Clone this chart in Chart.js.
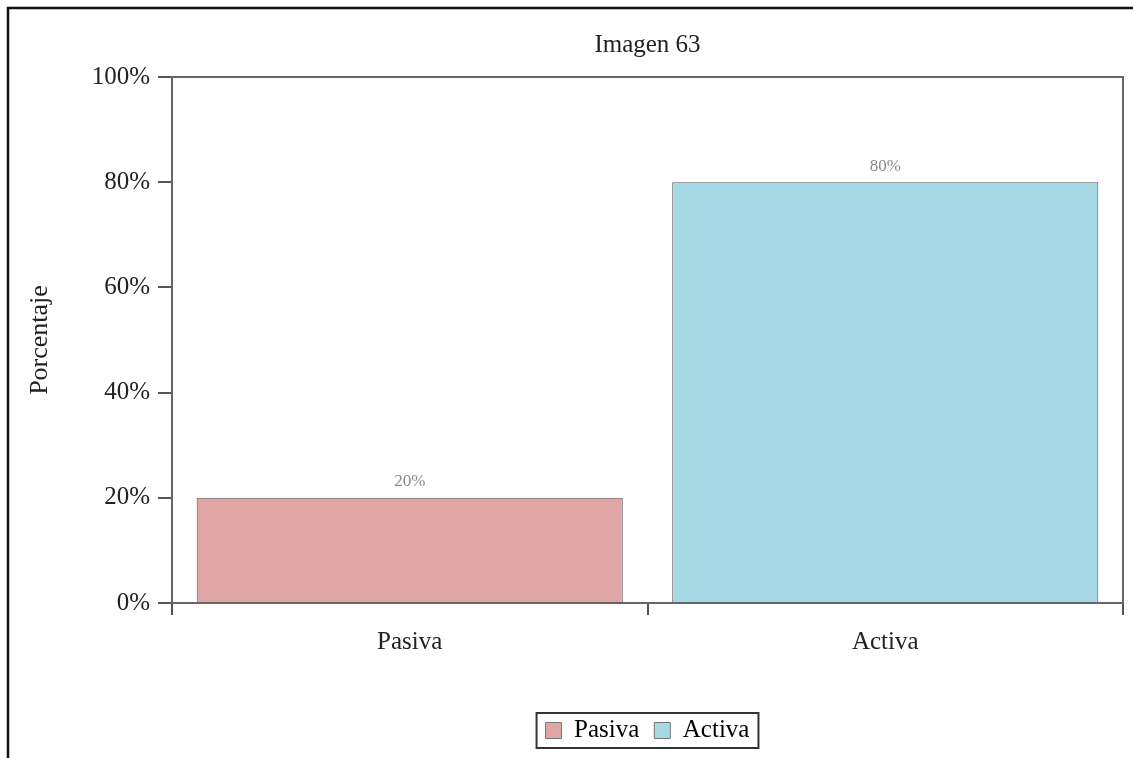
<!DOCTYPE html>
<html>
<head>
<meta charset="utf-8">
<script src="https://cdn.jsdelivr.net/npm/chart.js@4/dist/chart.umd.min.js"></script>
<style>
  html, body { margin: 0; padding: 0; background: #fff; }
  #wrap { width: 1133px; height: 758px; }
</style>
</head>
<body>
<div id="wrap"><canvas id="chart" width="1133" height="758"></canvas></div>
<script>
// datos
const categories = ["Pasiva", "Activa"];
const values = [20, 80];
const barColors = ["#E0A6A6", "#A7D8E6"];
const yTicks = [0, 20, 40, 60, 80, 100];

const SERIF = "'Liberation Serif', 'Times New Roman', serif";

// marco exterior + marco del área de gráfico
const framePlugin = {
  id: "frames",
  beforeDraw(chart) {
    const c = chart.ctx;
    c.save();
    c.fillStyle = "#fff";
    c.fillRect(0, 0, chart.width, chart.height);
    c.strokeStyle = "#111";
    c.lineWidth = 2.5;
    c.beginPath();
    c.moveTo(8, chart.height);
    c.lineTo(8, 8);
    c.lineTo(chart.width, 8);
    c.stroke();
    c.restore();
  },
  afterDatasetsDraw(chart) {
    const c = chart.ctx;
    const a = chart.chartArea;
    c.save();
    c.strokeStyle = "#666";
    c.lineWidth = 2;
    c.strokeRect(a.left, a.top, a.right - a.left, a.bottom - a.top);
    // etiquetas de valor
    c.fillStyle = "#8a8a8a";
    c.font = "17px " + SERIF;
    c.textAlign = "center";
    c.textBaseline = "middle";
    chart.getDatasetMeta(0).data.forEach((bar, i) => {
      c.fillText(values[i] + "%", bar.x, bar.y - 16);
    });
    c.restore();
  },
  afterDraw(chart) {
    // recuadro de la leyenda
    const boxes = chart.legend.legendHitBoxes;
    if (!boxes || !boxes.length) return;
    const left = Math.min(...boxes.map(b => b.left));
    const right = Math.max(...boxes.map(b => b.left + b.width));
    const top = Math.min(...boxes.map(b => b.top));
    const bottom = Math.max(...boxes.map(b => b.top + b.height));
    const c = chart.ctx;
    c.save();
    c.strokeStyle = "#333";
    c.lineWidth = 2;
    c.strokeRect(left - 9, top - 5, right - left + 18, bottom - top + 10);
    c.restore();
  }
};

new Chart(document.getElementById("chart"), {
  type: "bar",
  data: {
    labels: categories,
    datasets: [{
      label: "Porcentaje",
      data: values,
      backgroundColor: barColors,
      borderColor: "#555",
      borderWidth: 1,
      barPercentage: 0.896,
      categoryPercentage: 1
    }]
  },
  options: {
    responsive: false,
    animation: false,
    layout: { padding: { left: 20, right: 10, top: 0, bottom: 5 } },
    plugins: {
      title: {
        display: true,
        fullSize: false,
        text: "Imagen 63",
        color: "#222",
        font: { family: SERIF, size: 25, weight: "normal" },
        padding: { top: 30, bottom: 17 }
      },
      legend: {
        position: "bottom",
        fullSize: false,
        labels: {
          color: "#222",
          font: { family: SERIF, size: 25 },
          boxWidth: 16,
          boxHeight: 16,
          padding: 15,
          generateLabels: () => categories.map((c, i) => ({
            text: c,
            fillStyle: barColors[i],
            strokeStyle: "#777",
            lineWidth: 1,
            hidden: false,
            index: i
          }))
        },
        onClick: null
      },
      tooltip: { enabled: false }
    },
    scales: {
      x: {
        grid: { display: true, drawOnChartArea: false, tickLength: 12, color: "#555", lineWidth: 2 },
        border: { display: false },
        ticks: { color: "#222", font: { family: SERIF, size: 25 }, padding: 12 },
        afterFit: (s) => { s.height = 100; }
      },
      y: {
        min: 0,
        max: 100,
        afterBuildTicks: (s) => { s.ticks = yTicks.map(v => ({ value: v })); },
        grid: { display: true, drawOnChartArea: false, tickLength: 14, color: "#555", lineWidth: 2 },
        border: { display: false },
        ticks: { color: "#222", font: { family: SERIF, size: 25 }, padding: 8, callback: (v) => v + "%" },
        title: {
          display: true,
          text: "Porcentaje",
          color: "#222",
          font: { family: SERIF, size: 26 },
          padding: { top: 5, bottom: 0 }
        },
        afterFit: (s) => { s.width = 152; }
      }
    }
  },
  plugins: [framePlugin]
});
</script>
</body>
</html>
